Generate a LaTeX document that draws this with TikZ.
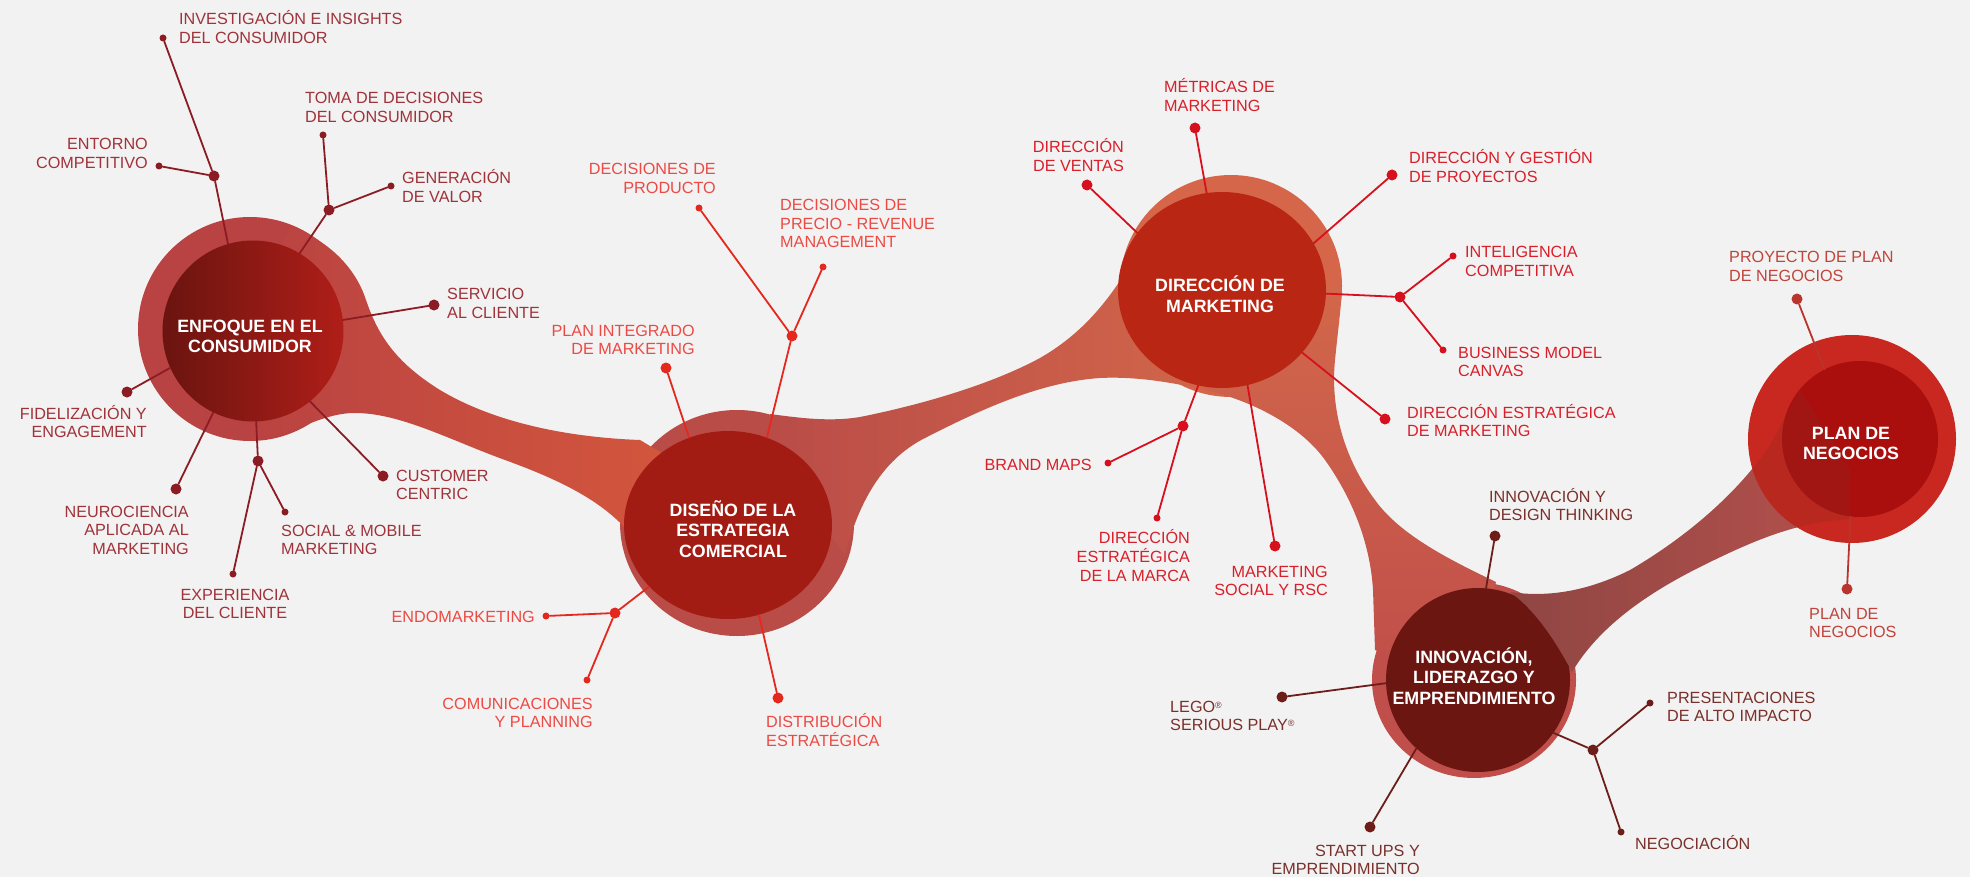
\documentclass[tikz,border=0pt]{standalone}
\usepackage{fontspec}
\setmainfont{Liberation Sans}
\usetikzlibrary{shapes.geometric}

\definecolor{fondo}{HTML}{F2F2F2}
\definecolor{aTxt}{HTML}{A0323A}
\definecolor{aLin}{HTML}{8C1C24}
\definecolor{bTxt}{HTML}{EC4A44}
\definecolor{bLin}{HTML}{E4281E}
\definecolor{cTxt}{HTML}{D91F2A}
\definecolor{cLin}{HTML}{D6101C}
\definecolor{dTxt}{HTML}{7A302B}
\definecolor{dLin}{HTML}{6E1E19}
\definecolor{eTxt}{HTML}{C0443C}
\definecolor{eLin}{HTML}{B8342C}
\definecolor{aAro}{HTML}{B94242}
\definecolor{bAro}{HTML}{BA4C48}
\definecolor{cAro}{HTML}{D5664A}
\definecolor{dAro}{HTML}{C04E4A}
\definecolor{eAro}{HTML}{C8281F}
\definecolor{aIn1}{HTML}{6A1410}
\definecolor{aIn2}{HTML}{B01E18}
\definecolor{bIn}{HTML}{A31C14}
\definecolor{cIn}{HTML}{B92714}
\definecolor{dIn}{HTML}{6C1612}
\definecolor{eIn}{HTML}{AA0F0E}
\definecolor{rio1}{HTML}{D4573C}
\definecolor{rio2}{HTML}{D2674A}
\definecolor{rio4}{HTML}{8F4643}
\definecolor{rio5}{HTML}{B5504C}
\definecolor{velo}{HTML}{8A2A1E}

\newcommand{\pila}[2]{\begin{tabular}[t]{@{}#1@{}}#2\end{tabular}}
\newcommand{\reg}{\raisebox{4pt}{\fontsize{9}{9}\selectfont ®}}

\begin{document}
\begin{tikzpicture}[x=1pt,y=-1pt,line cap=round]
	\tikzstyle{punto}=[circle,inner sep=0pt,minimum size=7pt];
	\tikzstyle{nudo}=[circle,inner sep=0pt,minimum size=11pt];
	\tikzstyle{rama}=[line width=1.8pt];
	\tikzstyle{etq}=[inner sep=0pt,font=\fontsize{16.2}{18.5}\selectfont];
	\tikzstyle{tit}=[inner sep=0pt,text=white,font=\bfseries\fontsize{17.8}{20.8}\selectfont];

	\fill[fondo] (0,0) rectangle (1970,877);
	\useasboundingbox (0,0) rectangle (1970,877);

	% anillos
	\fill[aAro] (250,329) circle [radius=112pt];
	\fill[bAro] (737,523) ellipse [x radius=117pt,y radius=113pt];
	\fill[cAro] (1231,286) circle [radius=111pt];
	\fill[dAro] (1474,680) ellipse [x radius=102pt,y radius=98pt];

	% rios
	\shade[left color=aAro,right color=rio1] (290,226) .. controls (327,240) and (355,266) .. (366,300)
		.. controls (378,335) and (395,362) .. (440,390) .. controls (490,420) and (560,437) .. (640,440)
		-- (690,470) -- (650,530) -- (627,530) .. controls (600,500) and (560,480) .. (505,460)
		.. controls (450,440) and (400,413) .. (355,413) .. controls (320,413) and (295,435) .. (250,441)
		-- (240,330) -- cycle;
	\shade[left color=bAro,right color=rio2] (770,414) .. controls (800,418) and (830,422) .. (860,417)
		.. controls (920,405) and (990,385) .. (1040,358) .. controls (1080,335) and (1105,305) .. (1127,270)
		-- (1200,250) -- (1240,340) -- (1215,392) .. controls (1180,384) and (1140,376) .. (1100,378)
		.. controls (1040,382) and (980,410) .. (927,437) .. controls (890,455) and (862,490) .. (845,555)
		-- (790,480) -- cycle;
	\shade[top color=rio2,bottom color=dAro] (1205,390) .. controls (1250,400) and (1300,425) .. (1325,460)
		.. controls (1350,495) and (1370,540) .. (1373,590) -- (1375,650) -- (1470,690) -- (1496,582)
		.. controls (1450,560) and (1400,535) .. (1375,500) .. controls (1345,460) and (1330,410) .. (1335,360)
		.. controls (1338,330) and (1342,300) .. (1342,285) -- (1250,300) -- cycle;

	% nucleos
	\node[circle,inner sep=0pt,minimum size=181pt,left color=aIn1,right color=aIn2] (A) at (253,331) {};
	\node[ellipse,inner sep=0pt,minimum width=208pt,minimum height=188pt,fill=bIn] (B) at (728,525) {};
	\node[ellipse,inner sep=0pt,minimum width=208pt,minimum height=196pt,fill=cIn] (C) at (1222,290) {};
	\node[circle,inner sep=0pt,minimum size=184pt,fill=dIn] (D) at (1478,680) {};

	\shade[left color=rio4,right color=rio5,save path=\rioDE] (1510,592) .. controls (1550,598) and (1590,590) .. (1630,570)
		.. controls (1690,535) and (1740,490) .. (1770,445) -- (1800,390) -- (1850,470) -- (1850,519)
		.. controls (1800,522) and (1760,537) .. (1700,567) .. controls (1650,592) and (1600,625) .. (1572,672)
		.. controls (1555,640) and (1535,610) .. (1510,592) -- cycle;

	\fill[eAro] (1852,439) circle [radius=104pt];
	\node[circle,inner sep=0pt,minimum size=156pt,fill=eIn] (E) at (1860,439) {};
	\begin{scope}
		\clip (1852,439) circle [radius=104pt];
		\fill[velo,opacity=.25,use path=\rioDE];
	\end{scope}

	% puntos
	\node[punto,fill=aLin] (aInv) at (163,38) {};
	\node[punto,fill=aLin] (aEnt) at (159,166) {};
	\node[nudo,fill=aLin] (aJ1) at (214,176) {};
	\node[punto,fill=aLin] (aToma) at (323,135) {};
	\node[punto,fill=aLin] (aGen) at (391,186) {};
	\node[nudo,fill=aLin] (aJ2) at (329,210) {};
	\node[nudo,fill=aLin] (aServ) at (434,305) {};
	\node[nudo,fill=aLin] (aFid) at (127,392) {};
	\node[nudo,fill=aLin] (aNeuro) at (176,489) {};
	\node[nudo,fill=aLin] (aJ3) at (258,461) {};
	\node[punto,fill=aLin] (aExp) at (233,574) {};
	\node[punto,fill=aLin] (aSoc) at (285,512) {};
	\node[nudo,fill=aLin] (aCust) at (383,476) {};

	\node[punto,fill=bLin] (bProd) at (699,208) {};
	\node[punto,fill=bLin] (bPrecio) at (823,267) {};
	\node[nudo,fill=bLin] (bJ1) at (792,336) {};
	\node[nudo,fill=bLin] (bPlan) at (666,368) {};
	\node[punto,fill=bLin] (bEndo) at (546,616) {};
	\node[nudo,fill=bLin] (bJ2) at (615,613) {};
	\node[punto,fill=bLin] (bCom) at (587,680) {};
	\node[nudo,fill=bLin] (bDist) at (778,698) {};

	\node[nudo,fill=cLin] (cVentas) at (1087,185) {};
	\node[nudo,fill=cLin] (cMetr) at (1195,128) {};
	\node[nudo,fill=cLin] (cGest) at (1392,175) {};
	\node[punto,fill=cLin] (cInt) at (1453,256) {};
	\node[nudo,fill=cLin] (cJ1) at (1400,297) {};
	\node[punto,fill=cLin] (cBus) at (1443,350) {};
	\node[nudo,fill=cLin] (cDem) at (1385,419) {};
	\node[punto,fill=cLin] (cBrand) at (1108,463) {};
	\node[nudo,fill=cLin] (cJ2) at (1183,426) {};
	\node[punto,fill=cLin] (cMarca) at (1157,518) {};
	\node[nudo,fill=cLin] (cRsc) at (1275,546) {};

	\node[nudo,fill=dLin] (dDesign) at (1495,536) {};
	\node[nudo,fill=dLin] (dLego) at (1282,697) {};
	\node[nudo,fill=dLin] (dStart) at (1370,827) {};
	\node[nudo,fill=dLin] (dJ) at (1593,750) {};
	\node[punto,fill=dLin] (dPres) at (1650,703) {};
	\node[punto,fill=dLin] (dNeg) at (1621,832) {};

	\node[nudo,fill=eLin] (eProy) at (1797,299) {};
	\node[nudo,fill=eLin] (ePlan) at (1847,589) {};

	% ramas
	\draw[rama,aLin] (aInv) -- (aJ1) -- (A.106.5);
	\draw[rama,aLin] (aEnt) -- (aJ1);
	\draw[rama,aLin] (aToma) -- (aJ2) -- (A.59.8);
	\draw[rama,aLin] (aGen) -- (aJ2);
	\draw[rama,aLin] (aServ) -- (A.7);
	\draw[rama,aLin] (aFid) -- (A.204.8);
	\draw[rama,aLin] (aNeuro) -- (A.244);
	\draw[rama,aLin] (aExp) -- (aJ3) -- (A.272);
	\draw[rama,aLin] (aSoc) -- (aJ3);
	\draw[rama,aLin] (aCust) -- (A.309);

	\draw[rama,bLin] (bProd) -- (bJ1) -- (B.66.3);
	\draw[rama,bLin] (bPrecio) -- (bJ1);
	\draw[rama,bLin] (bPlan) -- (B.114.5);
	\draw[rama,bLin] (bEndo) -- (bJ2) -- (B.218.8);
	\draw[rama,bLin] (bCom) -- (bJ2);
	\draw[rama,bLin] (bDist) -- (B.289.4);

	\draw[rama,cLin] (cVentas) -- (C.146.7);
	\draw[rama,cLin] (cMetr) -- (C.99.8);
	\draw[rama,cLin] (cGest) -- (C.27.6);
	\draw[rama,cLin] (cInt) -- (cJ1) -- (C.358.3);
	\draw[rama,cLin] (cBus) -- (cJ1);
	\draw[rama,cLin] (cDem) -- (C.322);
	\draw[rama,cLin] (cBrand) -- (cJ2) -- (C.256);
	\draw[rama,cLin] (cMarca) -- (cJ2);
	\draw[rama,cLin] (cRsc) -- (C.285);

	\draw[rama,dLin] (dDesign) -- (D.85);
	\draw[rama,dLin] (dLego) -- (D.182);
	\draw[rama,dLin] (dStart) -- (D.228);
	\draw[rama,dLin] (dPres) -- (dJ) -- (D.325);
	\draw[rama,dLin] (dNeg) -- (dJ);

	\draw[rama,eLin] (eProy) -- (E.117.8);
	\draw[rama,eLin] (ePlan) -- (E.263);

	% titulos
	\node[tit,anchor=base] (tA) at (250,332) {\pila{c}{ENFOQUE EN EL\\CONSUMIDOR}};
	\node[tit,anchor=base] (tB) at (733,516) {\pila{c}{DISEÑO DE LA\\ESTRATEGIA\\COMERCIAL}};
	\node[tit,anchor=base] (tC) at (1220,292) {\pila{c}{DIRECCIÓN DE\\MARKETING}};
	\node[tit,anchor=base] (tD) at (1474,663) {\pila{c}{INNOVACIÓN,\\LIDERAZGO Y\\EMPRENDIMIENTO}};
	\node[tit,anchor=base] (tE) at (1851,439) {\pila{c}{PLAN DE\\NEGOCIOS}};

	% etiquetas
	\node[etq,text=aTxt,anchor=base west] (lInv) at (179,25) {\pila{l}{INVESTIGACIÓN E INSIGHTS\\DEL CONSUMIDOR}};
	\node[etq,text=aTxt,anchor=base east] (lEnt) at (148,150) {\pila{r}{ENTORNO\\COMPETITIVO}};
	\node[etq,text=aTxt,anchor=base west] (lToma) at (305,104) {\pila{l}{TOMA DE DECISIONES\\DEL CONSUMIDOR}};
	\node[etq,text=aTxt,anchor=base west] (lGen) at (402,184) {\pila{l}{GENERACIÓN\\DE VALOR}};
	\node[etq,text=aTxt,anchor=base west] (lServ) at (447,300) {\pila{l}{SERVICIO\\AL CLIENTE}};
	\node[etq,text=aTxt,anchor=base east] (lFid) at (147,419) {\pila{r}{FIDELIZACIÓN Y\\ENGAGEMENT}};
	\node[etq,text=aTxt,anchor=base east] (lNeuro) at (189,517) {\pila{r}{NEUROCIENCIA\\APLICADA AL\\MARKETING}};
	\node[etq,text=aTxt,anchor=base] (lExp) at (235,600) {\pila{c}{EXPERIENCIA\\DEL CLIENTE}};
	\node[etq,text=aTxt,anchor=base west] (lSoc) at (281,536) {\pila{l}{SOCIAL \& MOBILE\\MARKETING}};
	\node[etq,text=aTxt,anchor=base west] (lCust) at (396,481) {\pila{l}{CUSTOMER\\CENTRIC}};

	\node[etq,text=bTxt,anchor=base east] (lProd) at (716,175) {\pila{r}{DECISIONES DE\\PRODUCTO}};
	\node[etq,text=bTxt,anchor=base west] (lPrecio) at (780,211) {\pila{l}{DECISIONES DE\\PRECIO - REVENUE\\MANAGEMENT}};
	\node[etq,text=bTxt,anchor=base east] (lPlan) at (695,336) {\pila{r}{PLAN INTEGRADO\\DE MARKETING}};
	\node[etq,text=bTxt,anchor=base east] (lEndo) at (535,622) {ENDOMARKETING};
	\node[etq,text=bTxt,anchor=base east] (lCom) at (593,709) {\pila{r}{COMUNICACIONES\\Y PLANNING}};
	\node[etq,text=bTxt,anchor=base west] (lDist) at (766,727) {\pila{l}{DISTRIBUCIÓN\\ESTRATÉGICA}};

	\node[etq,text=cTxt,anchor=base west] (lMetr) at (1164,93) {\pila{l}{MÉTRICAS DE\\MARKETING}};
	\node[etq,text=cTxt,anchor=base east] (lVentas) at (1124,153) {\pila{r}{DIRECCIÓN\\DE VENTAS}};
	\node[etq,text=cTxt,anchor=base west] (lGest) at (1409,164) {\pila{l}{DIRECCIÓN Y GESTIÓN\\DE PROYECTOS}};
	\node[etq,text=cTxt,anchor=base west] (lInt) at (1465,258) {\pila{l}{INTELIGENCIA\\COMPETITIVA}};
	\node[etq,text=cTxt,anchor=base west] (lBus) at (1458,358) {\pila{l}{BUSINESS MODEL\\CANVAS}};
	\node[etq,text=cTxt,anchor=base west] (lDem) at (1407,418) {\pila{l}{DIRECCIÓN ESTRATÉGICA\\DE MARKETING}};
	\node[etq,text=cTxt,anchor=base east] (lBrand) at (1092,470) {BRAND MAPS};
	\node[etq,text=cTxt,anchor=base east] (lMarca) at (1190,543) {\pila{r}{DIRECCIÓN\\ESTRATÉGICA\\DE LA MARCA}};
	\node[etq,text=cTxt,anchor=base east] (lRsc) at (1328,577) {\pila{r}{MARKETING\\SOCIAL Y RSC}};

	\node[etq,text=dTxt,anchor=base west] (lDesign) at (1489,502) {\pila{l}{INNOVACIÓN Y\\DESIGN THINKING}};
	\node[etq,text=dTxt,anchor=base west] (lLego) at (1170,712) {\pila{l}{LEGO\reg\\SERIOUS PLAY\reg}};
	\node[etq,text=dTxt,anchor=base east] (lStart) at (1420,856) {\pila{r}{START UPS Y\\EMPRENDIMIENTO}};
	\node[etq,text=dTxt,anchor=base west] (lPres) at (1667,703) {\pila{l}{PRESENTACIONES\\DE ALTO IMPACTO}};
	\node[etq,text=dTxt,anchor=base west] (lNeg) at (1635,849) {NEGOCIACIÓN};

	\node[etq,text=eTxt,anchor=base west] (lProy) at (1729,263) {\pila{l}{PROYECTO DE PLAN\\DE NEGOCIOS}};
	\node[etq,text=eTxt,anchor=base west] (lPlanN) at (1809,619) {\pila{l}{PLAN DE\\NEGOCIOS}};
\end{tikzpicture}
\end{document}
